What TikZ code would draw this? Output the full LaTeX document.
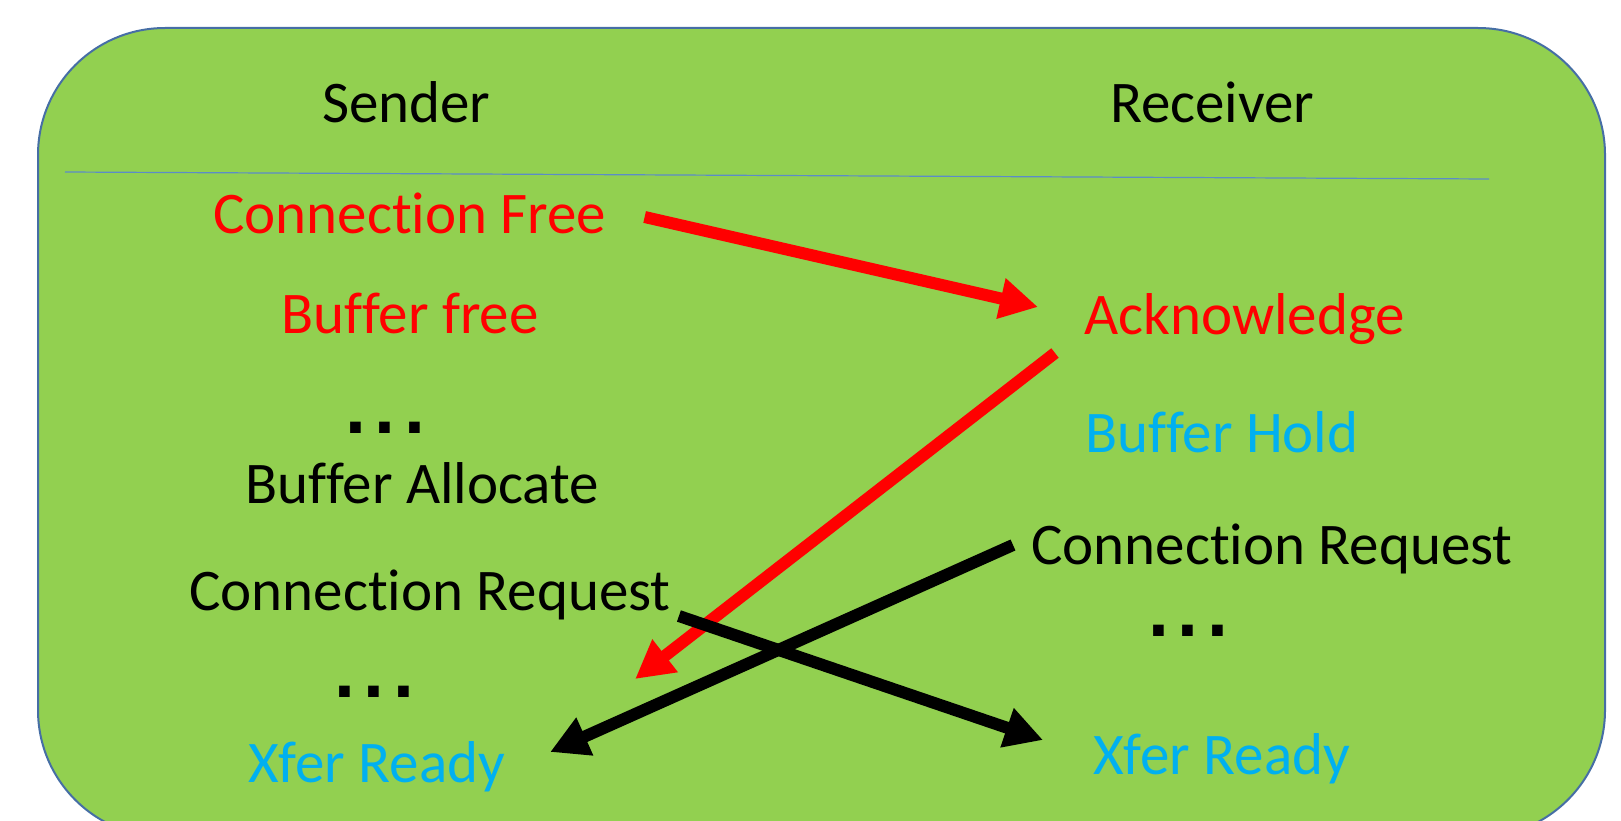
\documentclass[tikz,border=0pt]{standalone}
\usepackage{fontspec}
\setmainfont{Carlito}
\newfontfamily\dotsfont{DejaVu Sans Bold}
\usetikzlibrary{arrows.meta}
\usepackage{xcolor}
\definecolor{boxgreen}{HTML}{92D050}
\definecolor{boxedge}{RGB}{70,110,165}
\definecolor{ruleblue}{RGB}{91,140,200}
\definecolor{holdblue}{HTML}{00B0F0}
\newcommand{\dotgap}{\kern7pt}
\newcommand{\nolig}{\kern0pt}

\begin{document}
\begin{tikzpicture}[x=1pt, y=-1pt,
    >={Triangle[length=38pt, width=39pt]},
    every node/.style={
    anchor=base west,
    inner sep=0pt,
    font=\fontsize{59}{70}\selectfont
},
    dotrow/.style={font=\dotsfont\fontsize{60}{60}\selectfont}]
    \useasboundingbox (0,0) rectangle (1621,821);
    \clip (0,0) rectangle (1621,821);

    %frame
    \draw[fill=boxgreen, draw=boxedge, line width=2pt, rounded corners=127pt]
        (38,28) rectangle (1605,837);
    \draw[ruleblue, line width=1.2pt] (65,172) -- (1489,179);

    %sender
    \node (sender) [shift={(322, 123)}]
    {
        Sender
    };
    \node (connection_free) [red, shift={(213, 233)}]
    {
        Connect\nolig ion Free
    };
    \node (buffer_free) [red, shift={(281, 333)}]
    {
        Buf\nolig fer free
    };
    \node (sender_dots_a) [dotrow, shift={(344, 433)}]
    {
        .\dotgap.\dotgap.
    };
    \node (buffer_allocate) [shift={(245, 503)}]
    {
        Buf\nolig fer Allocate
    };
    \node (sender_request) [shift={(189, 610)}]
    {
        Connect\nolig ion Request
    };
    \node (sender_dots_b) [dotrow, shift={(333, 697)}]
    {
        .\dotgap.\dotgap.
    };
    \node (sender_xfer) [holdblue, shift={(248, 782)}]
    {
        Xfer Ready
    };

    %receiver
    \node (receiver) [shift={(1110, 123)}]
    {
        Receiver
    };
    \node (acknowledge) [red, shift={(1084, 334)}]
    {
        Acknowledge
    };
    \node (buffer_hold) [holdblue, shift={(1085, 452)}]
    {
        Buf\nolig fer Hold
    };
    \node (receiver_request) [shift={(1031, 564)}]
    {
        Connect\nolig ion Request
    };
    \node (receiver_dots) [dotrow, shift={(1147, 636)}]
    {
        .\dotgap.\dotgap.
    };
    \node (receiver_xfer) [holdblue, shift={(1093, 774)}]
    {
        Xfer Ready
    };

    %free / acknowledge
    \draw[->, red, line width=12pt] ([shift={(38,-16)}]connection_free.base east) to ([shift={(-46,-27)}]acknowledge.base west);
    \draw[->, red, line width=12pt] ([shift={(-29,19)}]acknowledge.base west) to ([shift={(130,-103)}]sender_xfer.base east);

    %requests
    \draw[->, line width=12pt] ([shift={(8,6)}]sender_request.base east) to ([shift={(-50,-34)}]receiver_xfer.base west);
    \draw[->, line width=12pt] ([shift={(-18,-19)}]receiver_request.base west) to ([shift={(45,-30)}]sender_xfer.base east);

\end{tikzpicture}
\end{document}
